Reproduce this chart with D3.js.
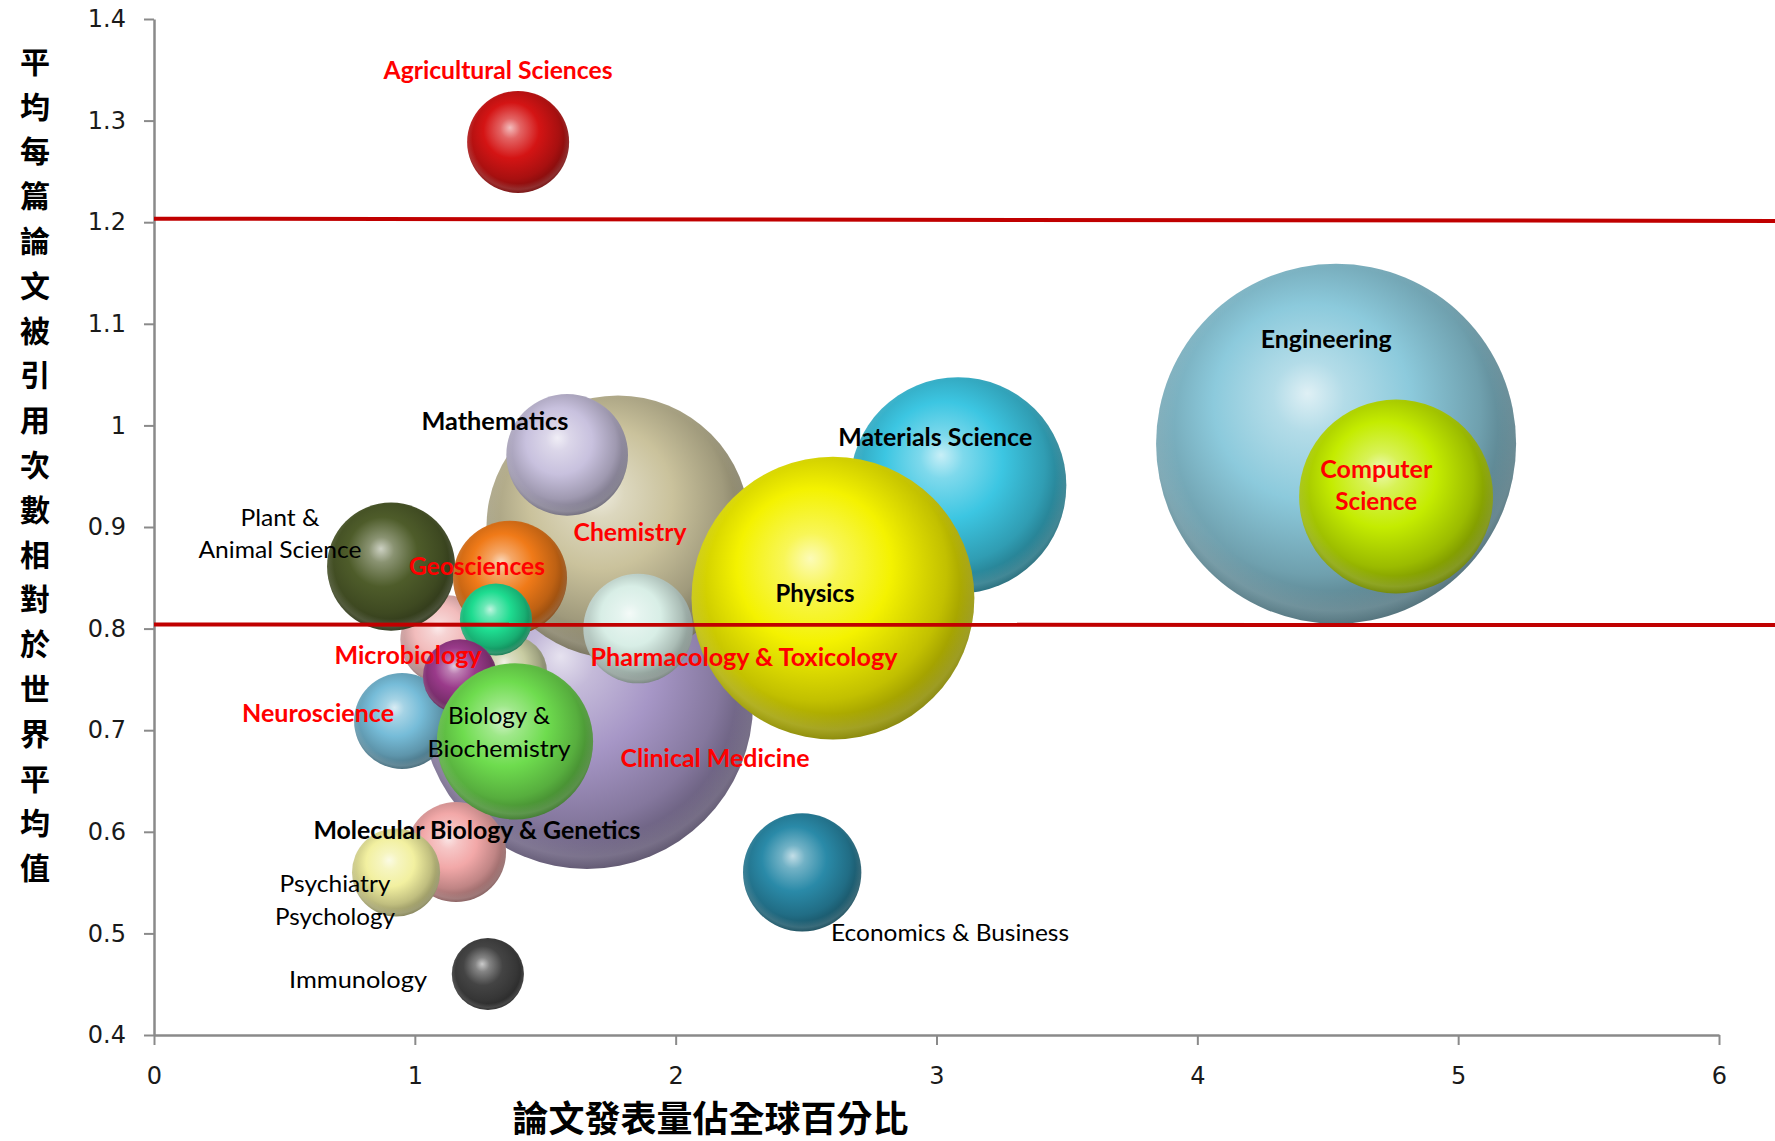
<!DOCTYPE html>
<html>
<head>
<meta charset="utf-8">
<script src="https://cdn.jsdelivr.net/npm/d3@7/dist/d3.min.js"></script>
<style>
  body { margin: 0; background: #fff; }
  svg { display: block; }
</style>
</head>
<body>
<svg id="chart" width="1775" height="1141"></svg>
<script>
// ---- data (listed back-to-front, in drawing order) ----
const fields = [
  "Engineering", "Computer Science", "Materials Science", "Clinical Medicine",
  "Chemistry", "Mathematics", "Space Science", "Plant & Animal Science",
  "Geosciences", "Social Sciences", "Environment/Ecology", "Neuroscience",
  "Microbiology", "Molecular Biology & Genetics", "Psychiatry/Psychology",
  "Biology & Biochemistry", "Pharmacology & Toxicology", "Physics",
  "Economics & Business", "Immunology", "Agricultural Sciences"
];
// share of world papers (%)
const paperShare = [
  4.532, 4.762, 3.083, 1.660,
  1.779, 1.584, 1.116, 0.909,
  1.365, 1.365, 1.311, 0.951,
  1.173, 1.158, 0.928,
  1.384, 1.856, 2.603,
  2.485, 1.280, 1.396
];
// citations per paper relative to world average
const relCitation = [
  0.982, 0.930, 0.941, 0.727,
  0.900, 0.971, 0.789, 0.861,
  0.850, 0.757, 0.809, 0.709,
  0.753, 0.580, 0.560,
  0.689, 0.800, 0.830,
  0.560, 0.460, 1.279
];
// bubble size (relative volume)
const bubbleSize = [
  324, 94, 117, 276,
  173, 37, 20, 41,
  32.5, 13.7, 13, 23,
  13.7, 25, 19.4,
  61, 30, 200,
  35, 13, 26
];

const xTickValues = [0, 1, 2, 3, 4, 5, 6];
const yTickValues = [0.4, 0.5, 0.6, 0.7, 0.8, 0.9, 1.0, 1.1, 1.2, 1.3, 1.4];
const xTitle = "論文發表量佔全球百分比";
const yTitle = "平均每篇論文被引用次數相對於世界平均值";

// reference lines: value at left end, value at right end
const refLineStart = [1.2035, 0.804];
const refLineEnd = [1.2012, 0.8035];

// label text per field (lines)
const labelFields = [
  "Agricultural Sciences", "Engineering", "Computer Science", "Materials Science",
  "Physics", "Mathematics", "Chemistry", "Plant & Animal Science", "Geosciences",
  "Microbiology", "Pharmacology & Toxicology", "Neuroscience", "Biology & Biochemistry",
  "Clinical Medicine", "Molecular Biology & Genetics", "Psychiatry/Psychology",
  "Immunology", "Economics & Business"
];
const labelLines = [
  ["Agricultural Sciences"], ["Engineering"], ["Computer", "Science"], ["Materials Science"],
  ["Physics"], ["Mathematics"], ["Chemistry"], ["Plant &", "Animal Science"], ["Geosciences"],
  ["Microbiology"], ["Pharmacology & Toxicology"], ["Neuroscience"], ["Biology &", "Biochemistry"],
  ["Clinical Medicine"], ["Molecular Biology & Genetics"], ["Psychiatry", "Psychology"],
  ["Immunology"], ["Economics & Business"]
];

// ---- styling ----
const bubbleColor = {
  "Engineering": "#8ccadc",
  "Computer Science": "#c4ec00",
  "Materials Science": "#3cc6e2",
  "Clinical Medicine": "#a696c6",
  "Chemistry": "#cac29c",
  "Mathematics": "#c8c1de",
  "Space Science": "#f2bcbc",
  "Plant & Animal Science": "#4e5c2a",
  "Geosciences": "#f07a18",
  "Social Sciences": "#c8cca2",
  "Environment/Ecology": "#1edc90",
  "Neuroscience": "#76bcd8",
  "Microbiology": "#9a3a8a",
  "Molecular Biology & Genetics": "#f2a8a8",
  "Psychiatry/Psychology": "#f2f0a0",
  "Biology & Biochemistry": "#6edc4e",
  "Pharmacology & Toxicology": "#d8eee6",
  "Physics": "#f4f200",
  "Economics & Business": "#2a8aa8",
  "Immunology": "#444444",
  "Agricultural Sciences": "#d41414"
};

// label placement in data units (centre of first line), line gap in px, widths in px
const labelStyle = {
  "Agricultural Sciences":        { x: 1.319, y: 1.3498, red: true,  bold: true,  w: [229] },
  "Engineering":                  { x: 4.494, y: 1.0850, red: false, bold: true,  w: [131] },
  "Computer Science":             { x: 4.686, y: 0.9570, red: true,  bold: true,  w: [112, 82], gap: 32 },
  "Materials Science":            { x: 2.995, y: 0.9886, red: false, bold: true,  w: [194] },
  "Physics":                      { x: 2.534, y: 0.8350, red: false, bold: true,  w: [79] },
  "Mathematics":                  { x: 1.307, y: 1.0040, red: false, bold: true,  w: [147] },
  "Chemistry":                    { x: 1.825, y: 0.8950, red: true,  bold: true,  w: [113] },
  "Plant & Animal Science":       { x: 0.483, y: 0.9090, red: false, bold: false, w: [79, 163], gap: 32 },
  "Geosciences":                  { x: 1.238, y: 0.8616, red: true,  bold: true,  w: [136] },
  "Microbiology":                 { x: 0.974, y: 0.7740, red: true,  bold: true,  w: [147] },
  "Pharmacology & Toxicology":    { x: 2.262, y: 0.7720, red: true,  bold: true,  w: [307] },
  "Neuroscience":                 { x: 0.629, y: 0.7170, red: true,  bold: true,  w: [152] },
  "Biology & Biochemistry":       { x: 1.323, y: 0.7150, red: false, bold: false, w: [102, 143], gap: 33 },
  "Clinical Medicine":            { x: 2.151, y: 0.6726, red: true,  bold: true,  w: [189] },
  "Molecular Biology & Genetics": { x: 1.238, y: 0.6018, red: false, bold: true,  w: [327] },
  "Psychiatry/Psychology":        { x: 0.694, y: 0.5496, red: false, bold: false, w: [111, 120], gap: 33 },
  "Immunology":                   { x: 0.782, y: 0.4550, red: false, bold: false, w: [138] },
  "Economics & Business":         { x: 3.052, y: 0.5014, red: false, bold: false, w: [238] }
};

// ---- chart ----
const W = 1775, H = 1141;
const svg = d3.select("#chart");

const x = d3.scaleLinear().domain([0, 6]).range([154, 1719]);
const y = d3.scaleLinear().domain([0.4, 1.4]).range([1035, 19]);
const r = d3.scaleSqrt().domain([0, 324]).range([0, 180]);

const bubbles = fields.map((f, i) => ({
  field: f, share: paperShare[i], cite: relCitation[i], size: bubbleSize[i]
}));

// sphere shading gradients
const defs = svg.append("defs");
bubbles.forEach((d, i) => {
  const base = d3.rgb(bubbleColor[d.field]);
  const toWhite = d3.interpolateRgb(base, "#ffffff");
  const g = defs.append("radialGradient")
    .attr("id", "sphere" + i)
    .attr("cx", 0.45).attr("cy", 0.42).attr("r", 0.62)
    .attr("fx", 0.42).attr("fy", 0.36);
  const stops = [
    [0, toWhite(0.72)],
    [0.16, toWhite(0.34)],
    [0.44, base.formatHex()],
    [0.74, base.darker(0.65).formatHex()],
    [1, base.darker(2.0).formatHex()]
  ];
  g.selectAll("stop").data(stops).join("stop")
    .attr("offset", s => s[0])
    .attr("stop-color", s => s[1]);
});
// soft light bounced onto the lower rim
const rim = defs.append("radialGradient")
  .attr("id", "rimLight").attr("cx", 0.5).attr("cy", 0.46).attr("r", 0.56);
rim.selectAll("stop").data([
  [0, "#ffffff", 0], [0.8, "#ffffff", 0], [0.9, "#ffffff", 0.14], [1, "#ffffff", 0]
]).join("stop")
  .attr("offset", s => s[0]).attr("stop-color", s => s[1]).attr("stop-opacity", s => s[2]);

// axes
const axisColor = "#8a8a8a";
const yAxis = svg.append("g")
  .attr("transform", `translate(${x(0)},0)`)
  .call(d3.axisLeft(y).tickValues(yTickValues).tickSize(10).tickSizeOuter(0)
    .tickPadding(18).tickFormat(d => String(+d.toFixed(1))));
const xAxis = svg.append("g")
  .attr("transform", `translate(0,${y(0.4)})`)
  .call(d3.axisBottom(x).tickValues(xTickValues).tickSize(10).tickSizeOuter(0)
    .tickFormat(d3.format("d")));

[yAxis, xAxis].forEach(a => {
  a.select(".domain").attr("stroke", axisColor).attr("stroke-width", 2.5);
  a.selectAll(".tick line").attr("stroke", axisColor).attr("stroke-width", 2);
  a.selectAll(".tick text")
    .attr("fill", "#1a1a1a")
    .style("font-family", "'DejaVu Sans', Verdana, sans-serif")
    .style("font-size", "24px");
});
xAxis.selectAll(".tick text").attr("y", 40).attr("dy", "0.36em");

// bubbles
const bub = svg.append("g").selectAll("g").data(bubbles).join("g");
bub.append("circle")
  .attr("cx", d => x(d.share))
  .attr("cy", d => y(d.cite))
  .attr("r", d => r(d.size))
  .attr("fill", (d, i) => `url(#sphere${i})`);
bub.append("circle")
  .attr("cx", d => x(d.share))
  .attr("cy", d => y(d.cite))
  .attr("r", d => r(d.size))
  .attr("fill", "url(#rimLight)");

// reference lines
svg.append("g").selectAll("line").data(refLineStart).join("line")
  .attr("x1", x(0))
  .attr("x2", W)
  .attr("y1", d => y(d))
  .attr("y2", (d, i) => y(refLineEnd[i]))
  .attr("stroke", "#c00000")
  .attr("stroke-width", 4);

// field labels
const labels = labelFields.map((f, i) => ({ field: f, lines: labelLines[i], st: labelStyle[f] }));
const lab = svg.append("g").selectAll("text").data(labels).join("text")
  .attr("text-anchor", "middle")
  .attr("fill", d => d.st.red ? "#ff0000" : "#000000")
  .style("font-family", "Lato, 'Open Sans', sans-serif")
  .style("font-size", "24px")
  .style("font-weight", d => d.st.bold ? 700 : 400);
lab.selectAll("tspan").data(d => d.lines.map((t, k) => ({ t, k, d }))).join("tspan")
  .attr("x", o => x(o.d.st.x))
  .attr("y", o => y(o.d.st.y) + o.k * (o.d.st.gap || 0))
  .attr("dy", "0.36em")
  .attr("textLength", o => o.d.st.w[o.k])
  .attr("lengthAdjust", "spacingAndGlyphs")
  .text(o => o.t);

// axis titles
svg.append("text")
  .attr("x", (x(0) + x(6)) / 2 - 226)
  .attr("y", 1119)
  .attr("dy", "0.36em")
  .attr("text-anchor", "middle")
  .attr("fill", "#000")
  .style("font-family", "'Noto Sans CJK TC', sans-serif")
  .style("font-size", "36px")
  .style("font-weight", 700)
  .text(xTitle);

svg.append("g").selectAll("text").data(Array.from(yTitle)).join("text")
  .attr("x", 35)
  .attr("y", (c, i) => 62 + i * 44.8)
  .attr("dy", "0.36em")
  .attr("text-anchor", "middle")
  .attr("fill", "#000")
  .style("font-family", "'Noto Sans CJK TC', sans-serif")
  .style("font-size", "30px")
  .style("font-weight", 700)
  .text(c => c);
</script>
</body>
</html>
